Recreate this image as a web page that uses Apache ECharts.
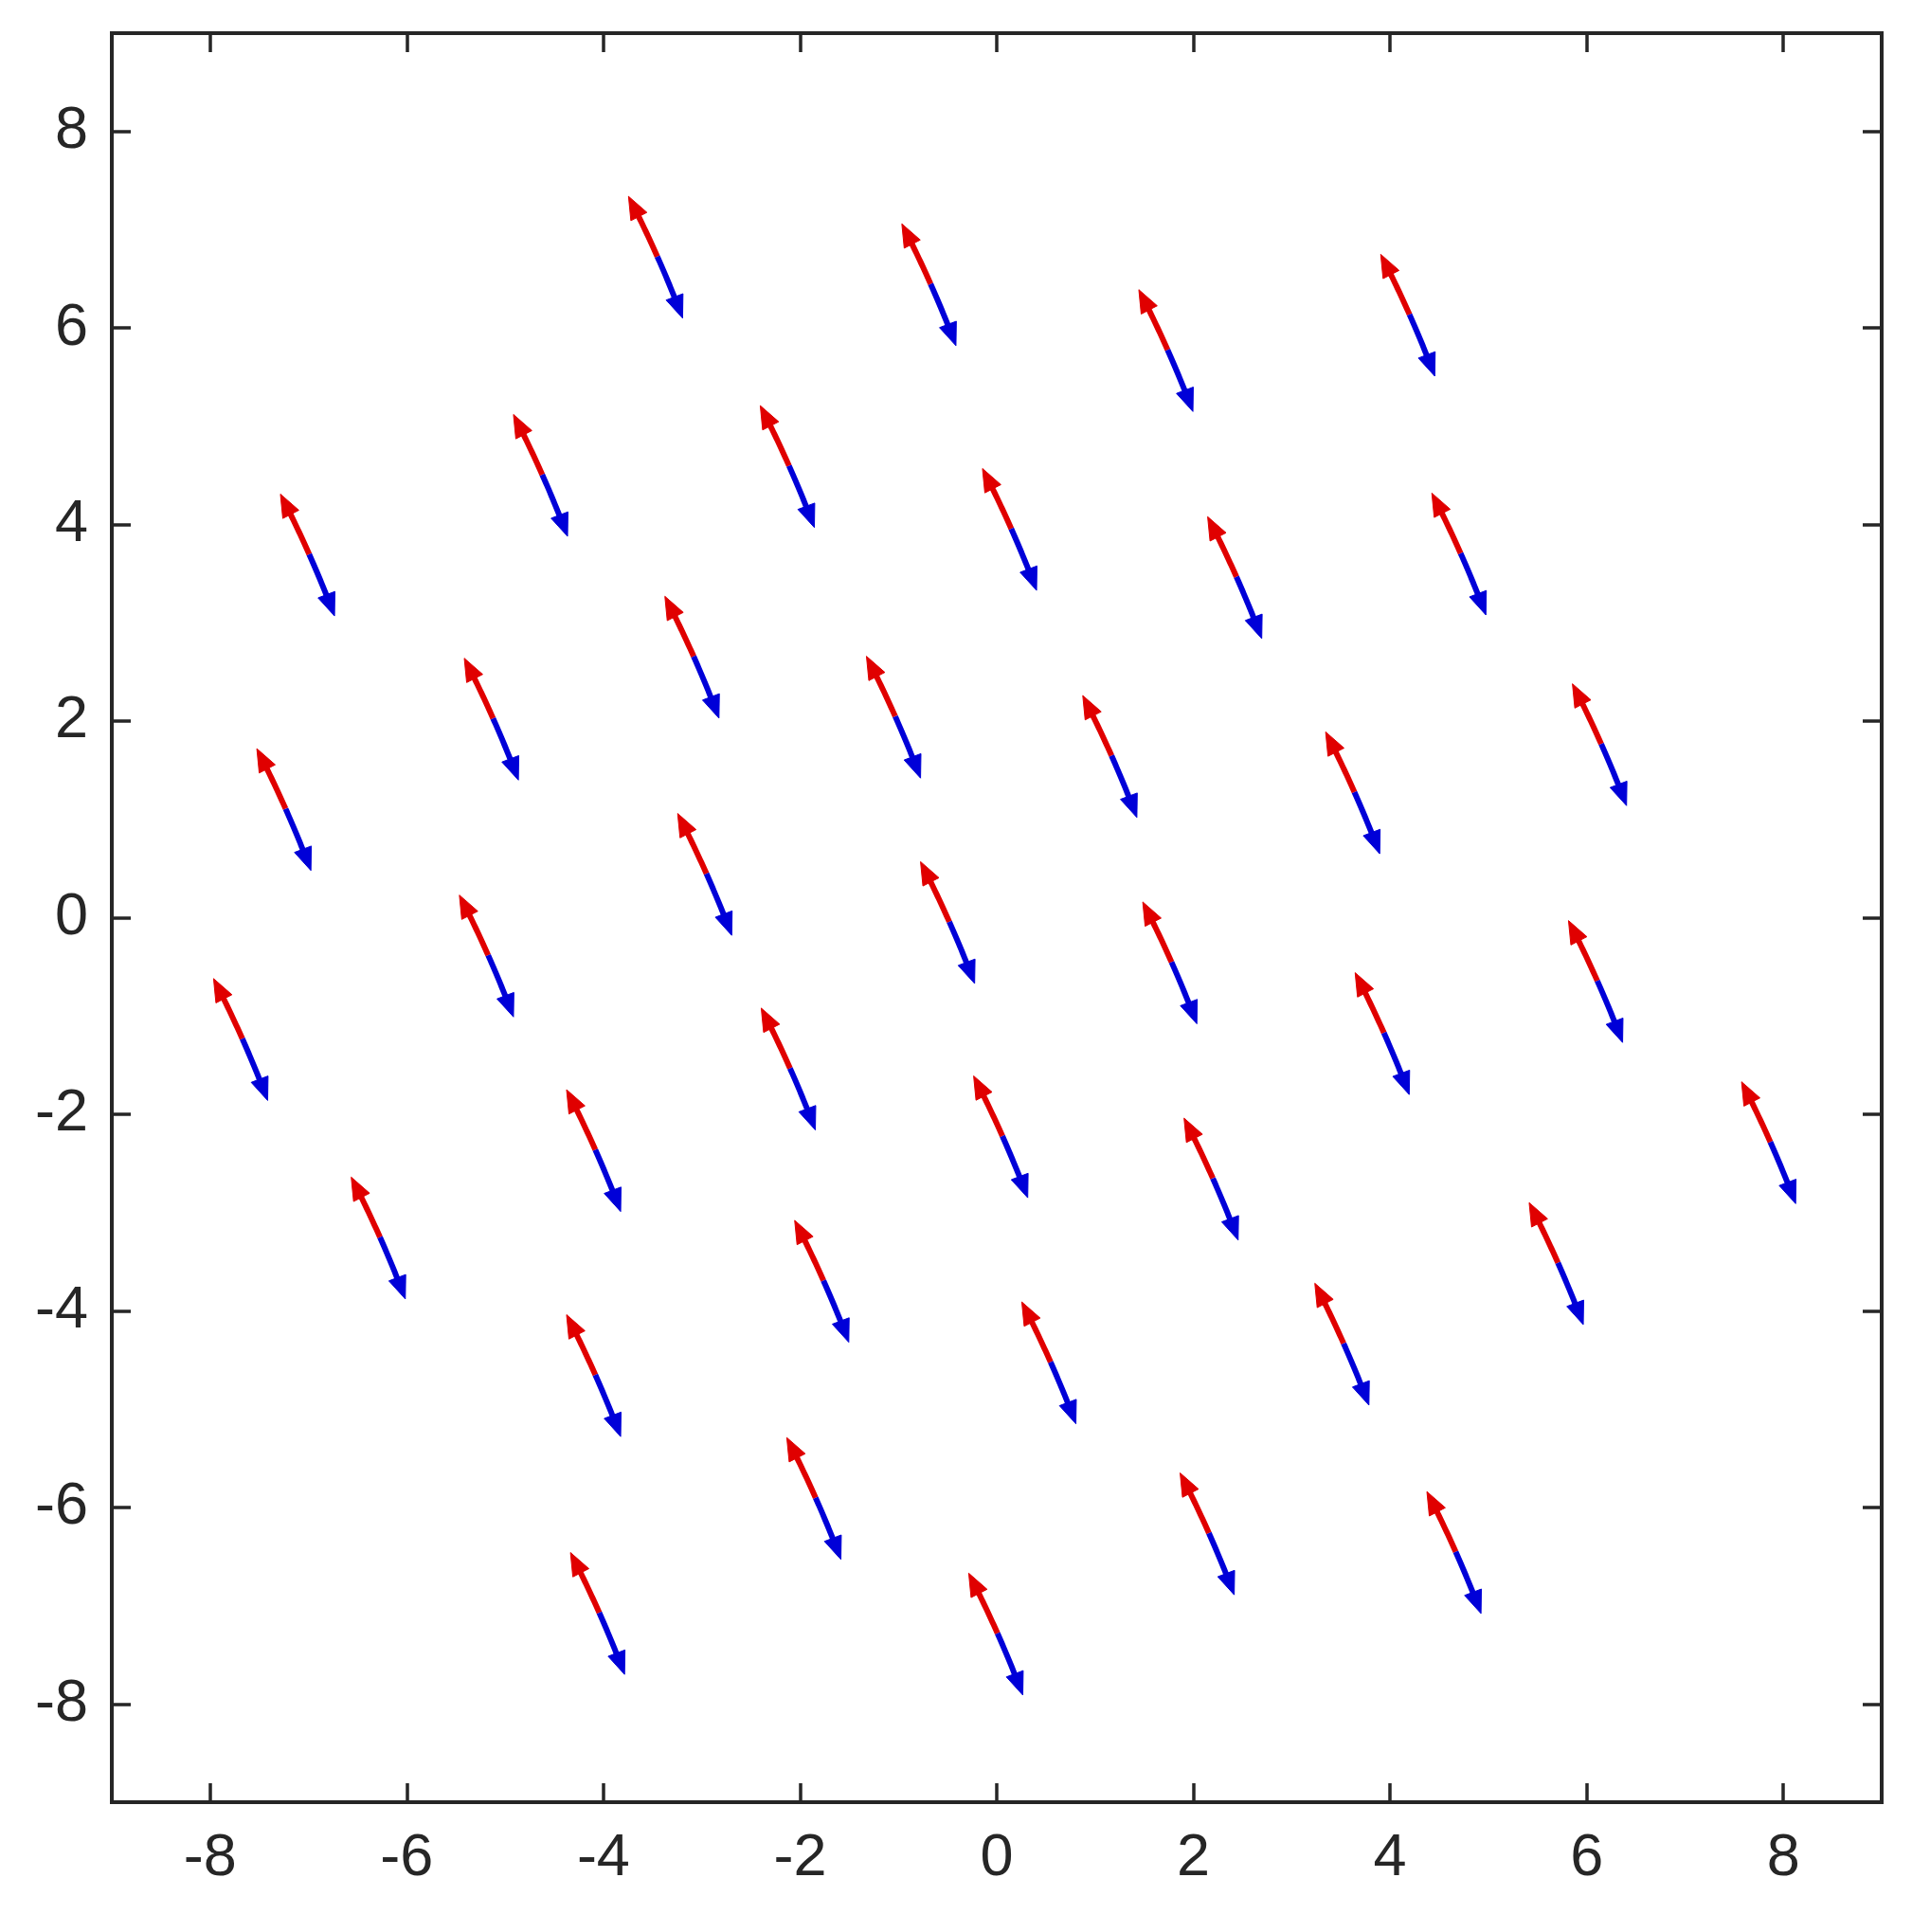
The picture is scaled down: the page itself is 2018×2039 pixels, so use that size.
<!DOCTYPE html>
<html>
<head>
<meta charset="utf-8">
<script src="https://cdn.jsdelivr.net/npm/echarts@6/dist/echarts.min.js"></script>
<style>
  html, body { margin: 0; padding: 0; background: #ffffff; }
  #chart { width: 2018px; height: 2039px; }
</style>
</head>
<body>
<div id="chart"></div>
<script>
// ---- data ----
// centres of the double-headed arrows (data units)
const arrowX = [-3.47, -0.69, 1.72, 4.18,
  -4.64, -2.13, -7.01, 0.13, 2.42, 4.70,
  -3.10, -5.14, -1.05, 1.15, 3.62, 6.13, -7.25,
  -2.97, -0.50, -5.19, 1.76, 6.09, -7.69, -2.12, 3.92,
  -4.10, 0.04, 2.18, 7.85, -6.29, -1.78, 5.69,
  -4.10, 0.53, 3.51, -1.86, 2.14, 4.65, -4.06, -0.01];
const arrowY = [6.72, 6.44, 5.77, 6.13,
  4.50, 4.59, 3.69, 3.95, 3.46, 3.70,
  2.65, 2.02, 2.04, 1.64, 1.27, 1.76, 1.10,
  0.44, -0.05, -0.39, -0.46, -0.65, -1.24, -1.54, -1.18,
  -2.37, -2.23, -2.66, -2.29, -3.26, -3.70, -3.52,
  -4.66, -4.53, -4.34, -5.91, -6.27, -6.46, -7.08, -7.29];
// tip-to-tip extent of every arrow (data units)
const arrowSpanX = 0.55;
const arrowSpanY = 1.24;
// tick labels
const xTicks = [-8, -6, -4, -2, 0, 2, 4, 6, 8];
const yTicks = [-8, -6, -4, -2, 0, 2, 4, 6, 8];

// ---- styles ----
const RED = '#e00000';
const BLUE = '#0000d8';
const AXIS_COLOR = '#262626';
const BEND = 4;      // control-point offset (px) giving the slight curvature
const HEAD_LEN = 24; // arrowhead length (px)
const HEAD_HW = 9.5; // arrowhead half width (px)
const LINE_W = 6;

const chart = echarts.init(document.getElementById('chart'), null, { renderer: 'canvas' });

function renderArrow(params, api) {
  const cx = api.value(0), cy = api.value(1);
  const p0 = api.coord([cx - arrowSpanX / 2, cy + arrowSpanY / 2]);
  const p2 = api.coord([cx + arrowSpanX / 2, cy - arrowSpanY / 2]);
  const dx = p2[0] - p0[0], dy = p2[1] - p0[1];
  const L = Math.hypot(dx, dy);
  const ux = dx / L, uy = dy / L;
  const perp = [uy, -ux]; // toward upper right
  const c = [(p0[0] + p2[0]) / 2 + perp[0] * BEND, (p0[1] + p2[1]) / 2 + perp[1] * BEND];
  const bez = (t) => {
    const a = (1 - t) * (1 - t), b = 2 * (1 - t) * t, d = t * t;
    return [a * p0[0] + b * c[0] + d * p2[0], a * p0[1] + b * c[1] + d * p2[1]];
  };
  const t0 = (HEAD_LEN * 0.75) / L, t1 = 1 - t0;
  const N = 16;
  const redPts = [], bluePts = [];
  for (let i = 0; i <= N; i++) {
    redPts.push(bez(t0 + (0.5 - t0) * i / N));
    bluePts.push(bez(0.5 + (t1 - 0.5) * i / N));
  }
  let vx = c[0] - p0[0], vy = c[1] - p0[1];
  let vl = Math.hypot(vx, vy); vx /= vl; vy /= vl;
  const b0 = [p0[0] + vx * HEAD_LEN, p0[1] + vy * HEAD_LEN];
  const head0 = [p0, [b0[0] + vy * HEAD_HW, b0[1] - vx * HEAD_HW], [b0[0] - vy * HEAD_HW, b0[1] + vx * HEAD_HW]];
  let wx = p2[0] - c[0], wy = p2[1] - c[1];
  let wl = Math.hypot(wx, wy); wx /= wl; wy /= wl;
  const b2 = [p2[0] - wx * HEAD_LEN, p2[1] - wy * HEAD_LEN];
  const head2 = [p2, [b2[0] + wy * HEAD_HW, b2[1] - wx * HEAD_HW], [b2[0] - wy * HEAD_HW, b2[1] + wx * HEAD_HW]];
  return {
    type: 'group',
    children: [
      { type: 'polyline', shape: { points: redPts }, style: { stroke: RED, lineWidth: LINE_W, fill: null, lineCap: 'butt' } },
      { type: 'polyline', shape: { points: bluePts }, style: { stroke: BLUE, lineWidth: LINE_W, fill: null, lineCap: 'butt' } },
      { type: 'polygon', shape: { points: head0 }, style: { fill: RED, stroke: RED, lineWidth: 1 } },
      { type: 'polygon', shape: { points: head2 }, style: { fill: BLUE, stroke: BLUE, lineWidth: 1 } }
    ]
  };
}

const labelStyle = { color: AXIS_COLOR, fontSize: 63, fontFamily: 'Liberation Sans, Arial, sans-serif' };
const tickStyle = { show: true, inside: true, length: 20, lineStyle: { color: AXIS_COLOR, width: 3.5 } };
const hiddenLine = { show: false, onZero: false };

chart.setOption({
  animation: false,
  backgroundColor: '#ffffff',
  grid: {
    left: 118, top: 35, width: 1868, height: 1867,
    show: true, borderColor: AXIS_COLOR, borderWidth: 4, backgroundColor: 'transparent'
  },
  xAxis: [
    { type: 'value', position: 'bottom', min: -9, max: 9,
      axisLine: hiddenLine, splitLine: { show: false },
      axisTick: Object.assign({ customValues: xTicks }, tickStyle),
      axisLabel: Object.assign({ customValues: xTicks, margin: 28 }, labelStyle) },
    { type: 'value', position: 'top', min: -9, max: 9,
      axisLine: hiddenLine, splitLine: { show: false },
      axisTick: Object.assign({ customValues: xTicks }, tickStyle),
      axisLabel: { show: false } }
  ],
  yAxis: [
    { type: 'value', position: 'left', min: -9, max: 9,
      axisLine: hiddenLine, splitLine: { show: false },
      axisTick: Object.assign({ customValues: yTicks }, tickStyle),
      axisLabel: Object.assign({ customValues: yTicks, margin: 25 }, labelStyle) },
    { type: 'value', position: 'right', min: -9, max: 9,
      axisLine: hiddenLine, splitLine: { show: false },
      axisTick: Object.assign({ customValues: yTicks }, tickStyle),
      axisLabel: { show: false } }
  ],
  series: [{
    type: 'custom',
    xAxisIndex: 0, yAxisIndex: 0,
    renderItem: renderArrow,
    encode: { x: 0, y: 1 },
    data: arrowX.map((x, i) => [x, arrowY[i]]),
    clip: false
  }]
});
</script>
</body>
</html>
